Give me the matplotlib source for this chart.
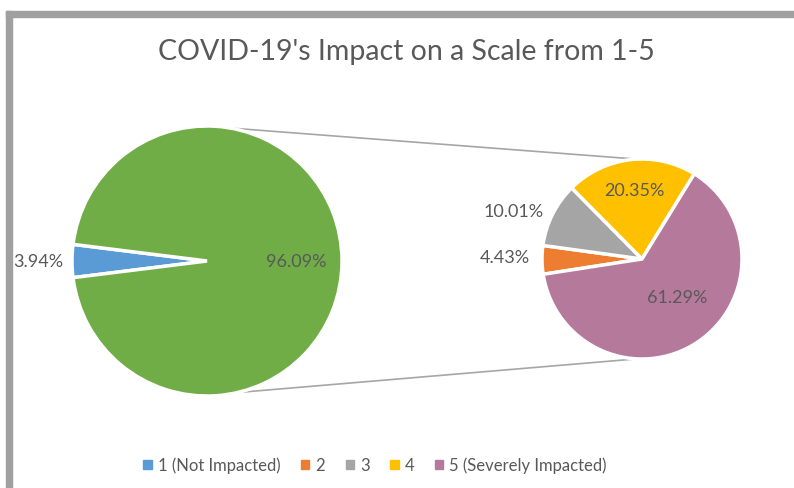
import matplotlib
matplotlib.use("Agg")
import matplotlib.pyplot as plt
from matplotlib.patches import Rectangle
import numpy as np

plt.rcParams['font.family'] = ['Lato', 'DejaVu Sans']

# Data
categories = ["1 (Not Impacted)", "2", "3", "4", "5 (Severely Impacted)"]
values = [3.94, 4.43, 10.01, 20.35, 61.29]
main_values = [3.94, 96.09]          # 1 vs. "other" (2-5)
main_labels = ["3.94%", "96.09%"]
sub_values = [4.43, 10.01, 20.35, 61.29]
sub_labels = ["4.43%", "10.01%", "20.35%", "61.29%"]
colors = ["#5B9BD5", "#ED7D31", "#A5A5A5", "#FFC000", "#B5799B"]
other_color = "#70AD47"
title = "COVID-19's Impact on a Scale from 1-5"

W, H = 794, 489
fig = plt.figure(figsize=(W / 100, H / 100), dpi=100)
ax = fig.add_axes([0, 0, 1, 1])

txt = "#595959"

# Frame (top and left borders)
fig.patches.append(Rectangle((6 / W, 0), 6 / W, (H - 12) / H, transform=fig.transFigure,
                             color="#A0A0A0", zorder=0))
fig.patches.append(Rectangle((6 / W, (H - 18) / H), (W - 6) / W, 6 / H, transform=fig.transFigure,
                             color="#A0A0A0", zorder=0))

# Main pie
c1 = (207, H - 262)
r1 = 135
frac1 = main_values[0] / sum(main_values) * 360
start1 = 180 + frac1 / 2
wedges1, _ = ax.pie(main_values, colors=[colors[0], other_color], center=c1, radius=r1,
                    startangle=start1, counterclock=False,
                    wedgeprops=dict(edgecolor="white", linewidth=2.5), frame=True)

# Sub pie
c2 = (642, H - 260)
r2 = 100
start2 = 188.8
wedges2, _ = ax.pie(sub_values, colors=colors[1:], center=c2, radius=r2,
                    startangle=start2, counterclock=False,
                    wedgeprops=dict(edgecolor="white", linewidth=2.5), frame=True)
ax.set_xlim(0, W)
ax.set_ylim(0, H)
ax.set_aspect('equal')
ax.axis('off')

fs = 13
# Labels main pie
ax.text(c1[0] - r1 - 34, c1[1], main_labels[0], ha='center', va='center', fontsize=fs, color=txt)
ax.text(c1[0] + 89, c1[1], main_labels[1], ha='center', va='center', fontsize=fs, color=txt)

# Labels sub pie
sub_label_pos = [(-137, 2), (-128, 48), (-8, 69), (35, -38)]
for (dx, dy), lab in zip(sub_label_pos, sub_labels):
    ax.text(c2[0] + dx, c2[1] + dy, lab, ha='center', va='center', fontsize=fs, color=txt)

# Connector lines
for a1, a2 in [(80, 93), (-77, -93)]:
    p1 = (c1[0] + r1 * np.cos(np.radians(a1)), c1[1] + r1 * np.sin(np.radians(a1)))
    p2 = (c2[0] + r2 * np.cos(np.radians(a2)), c2[1] + r2 * np.sin(np.radians(a2)))
    ax.plot([p1[0], p2[0]], [p1[1], p2[1]], color="#A6A6A6", lw=1.2, zorder=0)

# Title
fig.text(406 / W, 1 - 52 / H, title, ha='center', va='center', fontsize=20.5, color=txt)

# Legend
handles = [Rectangle((0, 0), 1, 1, color=c) for c in colors]
fig.legend(handles, categories, loc='center', bbox_to_anchor=(375 / W, 1 - 466 / H),
           ncol=5, frameon=False, fontsize=12, labelcolor=txt,
           handlelength=0.5, handleheight=0.5, handletextpad=0.35, columnspacing=1.25)

fig.savefig("out.png", dpi=100)
